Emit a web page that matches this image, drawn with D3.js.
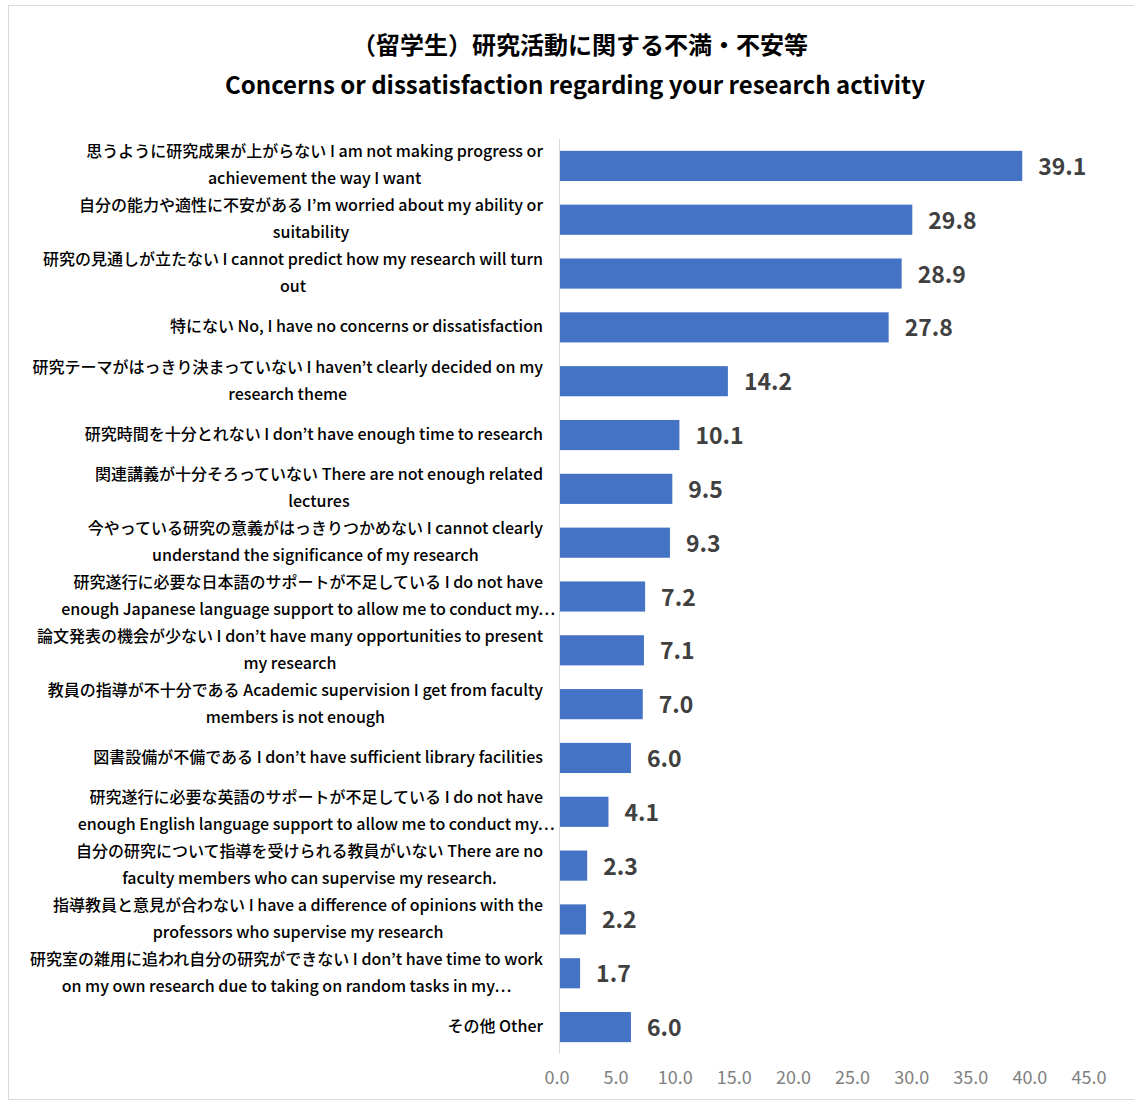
<!DOCTYPE html>
<html><head><meta charset="utf-8">
<script src="https://cdn.jsdelivr.net/npm/d3@7"></script>
<style>body{margin:0;background:#fff;}svg{display:block;}</style>
</head><body>
<svg id="c" width="1134" height="1102"></svg>
<script>
const titleLines = ["（留学生）研究活動に関する不満・不安等", "Concerns or dissatisfaction regarding your research activity"];
const categories = [
  ["思うように研究成果が上がらない I am not making progress or", "achievement the way I want"],
  ["自分の能力や適性に不安がある I’m worried about my ability or", "suitability"],
  ["研究の見通しが立たない  I cannot predict how my research will turn", "out"],
  ["特にない No, I have no concerns or dissatisfaction"],
  ["研究テーマがはっきり決まっていない I haven’t clearly decided on my", "research theme"],
  ["研究時間を十分とれない I don’t have enough time to research"],
  ["関連講義が十分そろっていない There are not enough related", "lectures"],
  ["今やっている研究の意義がはっきりつかめない I cannot clearly", "understand the significance of my research"],
  ["研究遂行に必要な日本語のサポートが不足している I do not have", "enough Japanese language support to allow me to conduct my⋯"],
  ["論文発表の機会が少ない I don’t have many opportunities to present", "my research"],
  ["教員の指導が不十分である Academic supervision I get from faculty", "members is not enough"],
  ["図書設備が不備である I don’t have sufficient library facilities"],
  ["研究遂行に必要な英語のサポートが不足している I do not have", "enough English language support to allow me to conduct my⋯"],
  ["自分の研究について指導を受けられる教員がいない There are no", "faculty members who can supervise my research."],
  ["指導教員と意見が合わない I have a difference of opinions with the", "professors who supervise my research"],
  ["研究室の雑用に追われ自分の研究ができない I don’t have time to work", "on my own research due to taking on random tasks in my⋯"],
  ["その他 Other"]
];
const values = [39.1, 29.8, 28.9, 27.8, 14.2, 10.1, 9.5, 9.3, 7.2, 7.1, 7.0, 6.0, 4.1, 2.3, 2.2, 1.7, 6.0];
const tickValues = [0, 5, 10, 15, 20, 25, 30, 35, 40, 45];

const svg = d3.select("#c");
const font = "'Noto Sans CJK JP','Noto Sans',sans-serif";
const dy = -2;

svg.append("rect").attr("x", 8.5).attr("y", 5.5).attr("width", 1140).attr("height", 1094)
  .attr("fill", "#fff").attr("stroke", "#d9d9d9").attr("stroke-width", 1);

const x = d3.scaleLinear().domain([0, 45]).range([560, 1092]);
const idx = categories.map((d, i) => i);
const y = d3.scaleBand().domain(idx).range([139, 1054]).paddingInner(0.44).paddingOuter(0.22);

// title
svg.append("text").attr("x", 580).attr("y", 45 + dy).attr("text-anchor", "middle").attr("dominant-baseline", "central")
  .attr("font-family", font).attr("font-weight", 700).attr("font-size", 24).attr("fill", "#000").text(titleLines[0]);
svg.append("text").attr("x", 575).attr("y", 85 + dy).attr("text-anchor", "middle").attr("dominant-baseline", "central")
  .attr("font-family", font).attr("font-weight", 700).attr("font-size", 24).attr("fill", "#000").text(titleLines[1]);

// bars
svg.append("g").selectAll("rect").data(values).join("rect")
  .attr("x", x(0)).attr("y", (d, i) => y(i)).attr("width", d => x(d) - x(0)).attr("height", y.bandwidth())
  .attr("fill", "#4472c4");

// axis line
svg.append("line").attr("x1", x(0) - 0.5).attr("x2", x(0) - 0.5).attr("y1", 139).attr("y2", 1054)
  .attr("stroke", "#d9d9d9").attr("stroke-width", 1);

// value labels
svg.append("g").selectAll("text").data(values).join("text")
  .attr("x", d => x(d) + 16).attr("y", (d, i) => y(i) + y.bandwidth() / 2 + dy + 1)
  .attr("dominant-baseline", "central").attr("font-family", font).attr("font-weight", 700)
  .attr("font-size", 23).attr("fill", "#404040").text(d => d.toFixed(1));

// category labels: lines centred within a block right-aligned at 543
const lg = svg.append("g");
const right = 543;
categories.forEach((lines, i) => {
  const cy = y(i) + y.bandwidth() / 2 + dy;
  const n = lines.length;
  const nodes = lines.map((t, j) => lg.append("text")
    .attr("y", cy + (j - (n - 1) / 2) * 27).attr("text-anchor", "middle").attr("dominant-baseline", "central")
    .attr("font-family", font).attr("font-weight", 500).attr("font-size", 16).attr("fill", "#000").text(t));
  const w0 = nodes[0].node().getComputedTextLength();
  const cx = right - w0 / 2;
  nodes.forEach(nd => nd.attr("x", cx));
});

// x tick labels
svg.append("g").selectAll("text").data(tickValues).join("text")
  .attr("x", d => x(d) - 3).attr("y", 1078 + dy).attr("text-anchor", "middle").attr("dominant-baseline", "central")
  .attr("font-family", font).attr("font-size", 18).attr("fill", "#808080").text(d => d.toFixed(1));
</script>
</body></html>
